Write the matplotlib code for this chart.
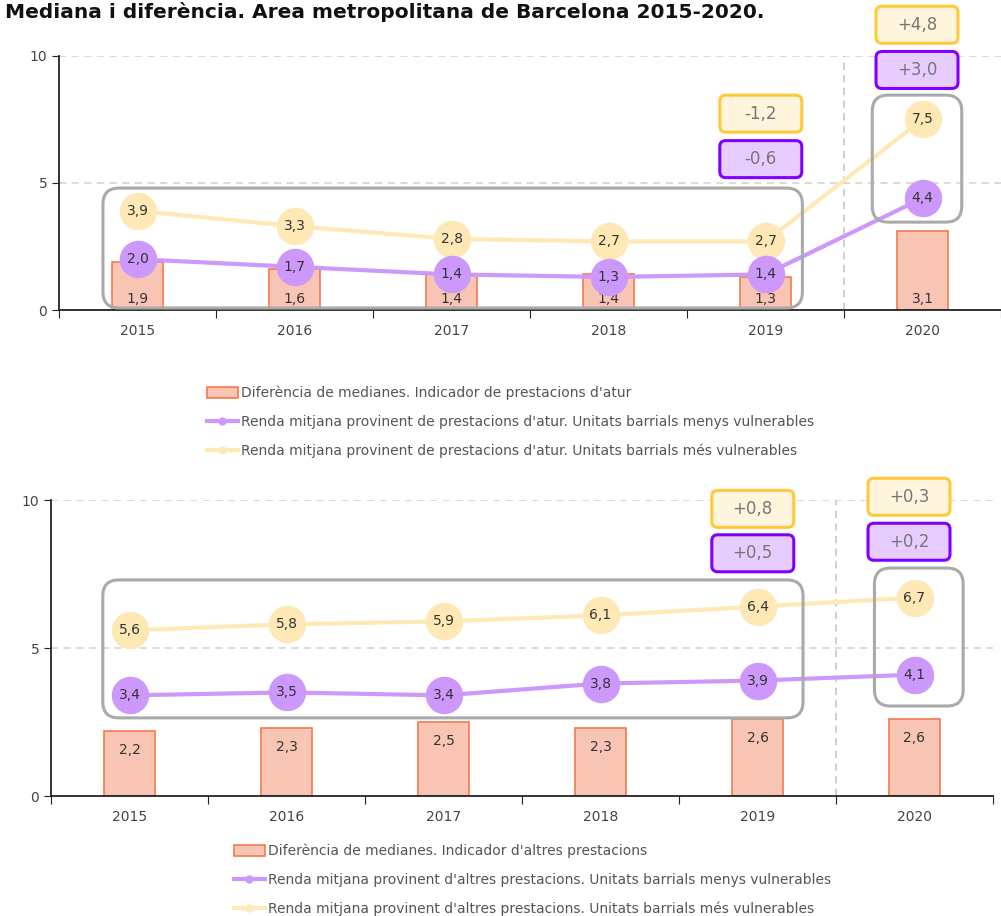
import matplotlib
matplotlib.use('Agg')
import matplotlib.pyplot as plt
from matplotlib.patches import FancyBboxPatch, Patch
from matplotlib.lines import Line2D

years = ['2015', '2016', '2017', '2018', '2019', '2020']

# prestacions d'atur
atur_diff = [1.9, 1.6, 1.4, 1.4, 1.3, 3.1]
atur_menys = [2.0, 1.7, 1.4, 1.3, 1.4, 4.4]
atur_mes = [3.9, 3.3, 2.8, 2.7, 2.7, 7.5]
atur_var_mes = ['-1,2', '+4,8']
atur_var_menys = ['-0,6', '+3,0']

# altres prestacions
altres_diff = [2.2, 2.3, 2.5, 2.3, 2.6, 2.6]
altres_menys = [3.4, 3.5, 3.4, 3.8, 3.9, 4.1]
altres_mes = [5.6, 5.8, 5.9, 6.1, 6.4, 6.7]
altres_var_mes = ['+0,8', '+0,3']
altres_var_menys = ['+0,5', '+0,2']

BAR_FC = '#f8c5b5'
BAR_EC = '#f47a4e'
PURPLE = '#cd98fc'
YELLOW = '#fee9b6'
BOX_Y_FC, BOX_Y_EC = '#fff4dc', '#ffc93c'
BOX_P_FC, BOX_P_EC = '#e7ccff', '#8000ff'
GREY_BOX = '#aaaaaa'
TXT = '#444444'

plt.rcParams['font.family'] = ['DejaVu Sans']

fig = plt.figure(figsize=(10.01, 9.16), dpi=100)


def fmt(v):
    return f'{v:.1f}'.replace('.', ',')


def px_scale(ax):
    p0 = ax.transData.transform((0, 0))
    p1 = ax.transData.transform((1, 1))
    return p1[0] - p0[0], p1[1] - p0[1]


def rounded(ax, x0, y0, x1, y1, r_px, fc, ec, lw):
    # rounded box in data coords, corners kept circular in pixels
    sx, sy = px_scale(ax)
    p = FancyBboxPatch((x0, y0), x1 - x0, y1 - y0,
                       boxstyle=f'round,pad=0,rounding_size={r_px / sx}',
                       mutation_aspect=sx / sy,
                       fc=fc, ec=ec, lw=lw, clip_on=False, zorder=6)
    ax.add_patch(p)


def label_box(ax, xc, yc, text, fc, ec):
    sx, sy = px_scale(ax)
    w, h = 82 / sx, 37 / sy
    rounded(ax, xc - w / 2, yc - h / 2, xc + w / 2, yc + h / 2, 6, fc, ec, 2.2)
    ax.text(xc, yc, text, ha='center', va='center', fontsize=12,
            color='#777777', zorder=7, clip_on=False)


def draw(ax, diff, menys, mes, var_mes, var_menys, cfg):
    x = list(range(len(years)))
    ax.set_xlim(-0.5, 5.5)
    ax.set_ylim(0, 10)
    for s in ['top', 'right']:
        ax.spines[s].set_visible(False)
    ax.spines['left'].set_color('#222222')
    ax.spines['bottom'].set_color('#222222')
    ax.spines['bottom'].set_linewidth(1.3)
    ax.spines['left'].set_linewidth(1.3)
    ax.set_yticks([0, 5, 10])
    ax.set_yticklabels(['0', '5', '10'])
    ax.tick_params(axis='y', length=5, colors='#222222', labelcolor=TXT, labelsize=10)
    ax.set_xticks([i + 0.5 for i in range(-1, 6)])
    ax.set_xticklabels([])
    ax.set_xticks(x, minor=True)
    ax.set_xticklabels(years, minor=True)
    ax.tick_params(axis='x', which='major', length=6, colors='#222222')
    ax.tick_params(axis='x', which='minor', length=0, labelcolor=TXT, labelsize=10, pad=10)
    for yv in [5, 10]:
        ax.axhline(yv, color='#d8d8d8', lw=1.3, ls=(0, (4, 3)), zorder=0)
    ax.axvline(4.5, color='#cccccc', lw=1.3, ls=(0, (4, 3)), zorder=0)

    ax.bar(x, diff, width=0.32, color=BAR_FC, edgecolor=BAR_EC, lw=1.2, zorder=2)
    for xi, v in zip(x, diff):
        ax.text(xi, cfg['bar_label'](v), fmt(v), ha='center', va='center',
                fontsize=10, color='#333333', zorder=3)

    ax.plot(x, mes, color=YELLOW, lw=3, marker='o', ms=27, mec='none', zorder=4)
    ax.plot(x, menys, color=PURPLE, lw=3, marker='o', ms=27, mec='none', zorder=5)
    for xi, v in zip(x, mes):
        ax.text(xi, v, fmt(v), ha='center', va='center', fontsize=10, color='#333333', zorder=8)
    for xi, v in zip(x, menys):
        ax.text(xi, v, fmt(v), ha='center', va='center', fontsize=10, color='#333333', zorder=8)

    # grey groups
    for (x0, y0, x1, y1) in cfg['groups']:
        rounded(ax, x0, y0, x1, y1, 16, 'none', GREY_BOX, 2.2)

    # variation boxes
    for xc, (ym, yp), tm, tp in zip([3.97, 4.965], cfg['box_y'], var_mes, var_menys):
        label_box(ax, xc, ym, tm, BOX_Y_FC, BOX_Y_EC)
        label_box(ax, xc, yp, tp, BOX_P_FC, BOX_P_EC)


ax1 = fig.add_axes([59 / 1001, 1 - 310 / 916, 942 / 1001, 254 / 916])
ax2 = fig.add_axes([51 / 1001, 1 - 796 / 916, 942 / 1001, 296 / 916])

draw(ax1, atur_diff, atur_menys, atur_mes, atur_var_mes, atur_var_menys, {
    'bar_label': lambda v: 0.45,
    'groups': [(-0.22, 0.08, 4.235, 4.8), (4.68, 3.46, 5.25, 8.46)],
    'box_y': [(7.73, 5.94), (11.23, 9.45)],
})
draw(ax2, altres_diff, altres_menys, altres_mes, altres_var_mes, altres_var_menys, {
    'bar_label': lambda v: v - 0.64,
    'groups': [(-0.17, 2.64, 4.29, 7.30), (4.745, 3.04, 5.31, 7.70)],
    'box_y': [(9.70, 8.20), (10.11, 8.59)],
})

fig.text(5 / 1001, 1 - 12 / 916, 'Mediana i diferència. Area metropolitana de Barcelona 2015-2020.',
         ha='left', va='center', fontsize=14.5, fontweight='bold', color='#111111')


def legend(anchor, kind):
    handles = [
        Patch(fc=BAR_FC, ec=BAR_EC, lw=1.2),
        Line2D([], [], color=PURPLE, lw=3, marker='o', ms=6, mec='none'),
        Line2D([], [], color=YELLOW, lw=3, marker='o', ms=6, mec='none'),
    ]
    labels = [
        f"Diferència de medianes. Indicador {kind[0]}",
        f"Renda mitjana provinent {kind[1]}. Unitats barrials menys vulnerables",
        f"Renda mitjana provinent {kind[1]}. Unitats barrials més vulnerables",
    ]
    fig.legend(handles, labels, loc='upper left', bbox_to_anchor=anchor, frameon=False,
               fontsize=10, labelcolor='#555555', handlelength=2.2, handleheight=0.9,
               handletextpad=0.25, labelspacing=1.05, borderpad=0, borderaxespad=0)


legend((207 / 1001, 1 - 386 / 916), ["de prestacions d'atur", "de prestacions d'atur"])
legend((234 / 1001, 1 - 844 / 916), ["d'altres prestacions", "d'altres prestacions"])

fig.savefig('out.png', dpi=100)
